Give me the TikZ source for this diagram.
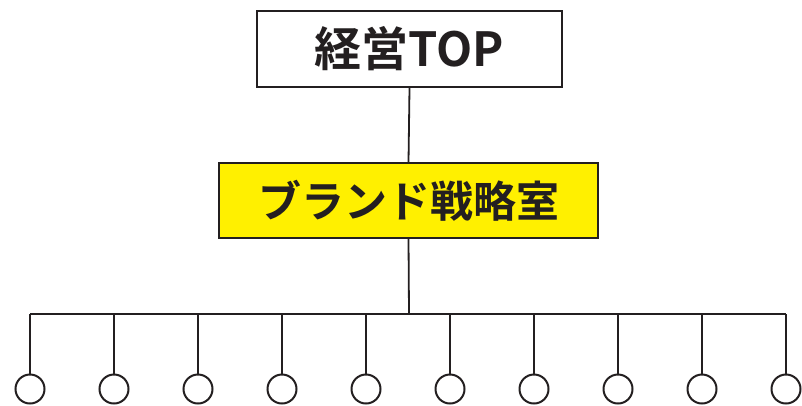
\documentclass[tikz,border=0pt]{standalone}
\usepackage{fontspec}
\setmainfont{Noto Sans CJK JP}[BoldFont={* Bold}]
\newfontfamily\jpbold{Noto Sans CJK JP Bold}
\definecolor{ink}{HTML}{231F20}
\definecolor{brandyellow}{HTML}{FFF000}
\begin{document}
\begin{tikzpicture}[x=1pt,y=-1pt,
  box/.style={draw=ink,line width=1.8pt,inner sep=0pt,text=ink},
  conn/.style={draw=ink,line width=1.8pt},
  member/.style={circle,draw=ink,line width=2pt,minimum size=29pt,inner sep=0pt}]
\useasboundingbox (0,0) rectangle (802,405);
\node[box,minimum width=305pt,minimum height=76pt,font=\jpbold\fontsize{47}{55}\selectfont] (top) at (409.5,49) {経営TOP};
\node[box,fill=brandyellow,minimum width=379pt,minimum height=75pt,font=\jpbold\fontsize{43}{50}\selectfont] (brand) at (408.5,200.5) {ブランド戦略室};
\draw[conn] (top.south) -- (brand.north);
\coordinate (hub) at (409,314);
\draw[conn] (brand.south) -- (hub);
\foreach \i in {0,...,9} {
  \node[member] (m\i) at (30+84*\i,389) {};
  \coordinate (b\i) at (30+84*\i,314);
  \draw[conn] (b\i) -- (m\i.north);
}
\draw[conn] (b0) -- (b9);
\end{tikzpicture}
\end{document}
